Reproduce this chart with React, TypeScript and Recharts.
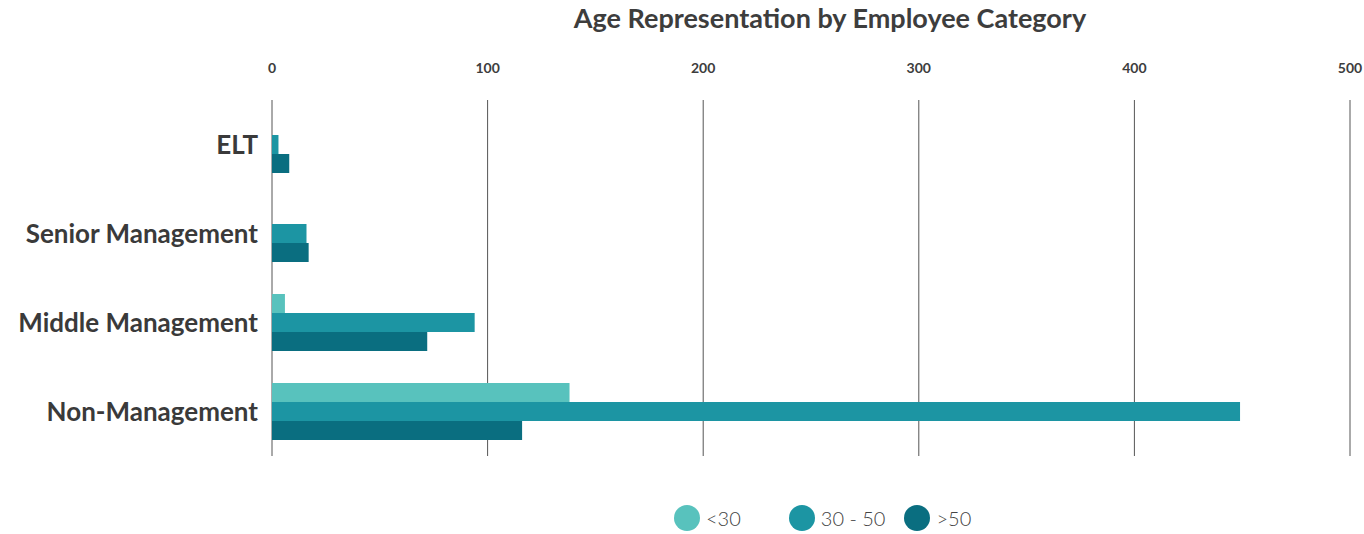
import { BarChart, Bar, XAxis, YAxis, CartesianGrid, ReferenceLine } from "recharts";

const categories = ["ELT", "Senior Management", "Middle Management", "Non-Management"];
const under30 = [0, 0, 6, 138];
const from30to50 = [3, 16, 94, 449];
const over50 = [8, 17, 72, 116];
const xTicks = [0, 100, 200, 300, 400, 500];

const series = [
  { key: "under30", name: "<30", color: "#58c2bd" },
  { key: "mid", name: "30 - 50", color: "#1c95a3" },
  { key: "over50", name: ">50", color: "#0a6e80" },
];

const data = categories.map((c, i) => ({
  name: c,
  under30: under30[i],
  mid: from30to50[i],
  over50: over50[i],
}));

const font = "Lato, 'Noto Sans', sans-serif";

export default function App() {
  return (
    <div style={{ position: "absolute", left: 0, top: 0, width: 1364, height: 534, fontFamily: font, background: "#fff" }}>
      <div
        style={{
          position: "absolute",
          top: 1,
          left: 0,
          width: 1660,
          textAlign: "center",
          fontSize: 27,
          fontWeight: 700,
          color: "#3d3d3d",
        }}
      >
        Age Representation by Employee Category
      </div>
      <BarChart
        width={1364}
        height={534}
        data={data}
        layout="vertical"
        margin={{ top: 70, right: 14, bottom: 78, left: 0 }}
        barGap={0}
        barSize={19}
      >
        <CartesianGrid horizontal={false} stroke="#555" strokeWidth={1} />
        <ReferenceLine x={500} stroke="#aaa" strokeWidth={2} />
        <XAxis
          type="number"
          orientation="top"
          height={30}
          domain={[0, 500]}
          ticks={xTicks}
          axisLine={false}
          tickLine={false}
          tickMargin={21}
          tick={{ fill: "#3d3d3d", fontSize: 14, fontWeight: 700, fontFamily: font }}
        />
        <YAxis
          type="category"
          dataKey="name"
          width={272}
          axisLine={false}
          tickLine={false}
          tickMargin={8}
          tick={{ fill: "#3a3a3a", fontSize: 26, fontWeight: 700, fontFamily: font }}
        />
        {series.map((s) => (
          <Bar key={s.key} dataKey={s.key} name={s.name} fill={s.color} isAnimationActive={false} />
        ))}
      </BarChart>
      <div
        style={{
          position: "absolute",
          top: 505,
          left: 674,
          display: "flex",
          alignItems: "center",
          fontSize: 20,
          fontWeight: 300,
          color: "#444",
        }}
      >
        {series.map((s, i) => (
          <div key={s.key} style={{ display: "flex", alignItems: "center", marginRight: i === 0 ? 48 : 19 }}>
            <span
              style={{
                display: "inline-block",
                width: 26,
                height: 26,
                borderRadius: 13,
                background: s.color,
                marginRight: 6,
              }}
            />
            <span>{s.name}</span>
          </div>
        ))}
      </div>
    </div>
  );
}
